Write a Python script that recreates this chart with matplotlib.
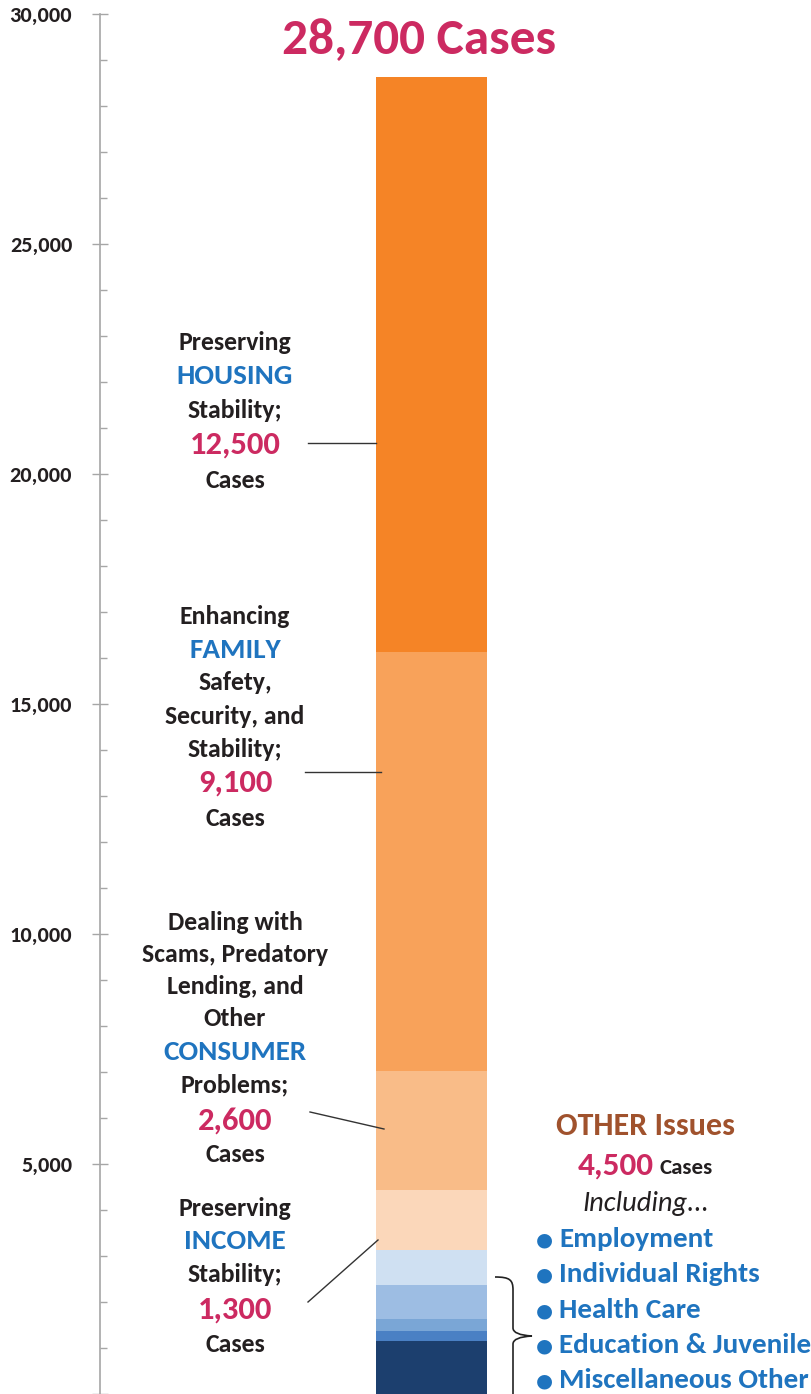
import matplotlib.pyplot as plt
from matplotlib.path import Path
from matplotlib.patches import PathPatch
from matplotlib.lines import Line2D

plt.rcParams['font.family'] = ['Carlito', 'DejaVu Sans']

# segments, bottom to top
segments = ['Misc', 'Education', 'Health', 'Rights', 'Employment',
            'Income', 'Consumer', 'Family', 'Housing']
values = [1150, 220, 260, 740, 760, 1300, 2600, 9100, 12500]
colors = ['#1C3F6E', '#4A80C4', '#7AA6D6', '#9DBDE3', '#CFE0F2',
          '#FBD7BA', '#F9BC88', '#F8A25A', '#F58426']
total_label = '28,700 Cases'
other_items = ['Employment', 'Individual Rights', 'Health Care',
               'Education & Juvenile', 'Miscellaneous Other']

W, H = 812, 1394
PINK = '#CC2A61'
BLUE = '#1F74BF'
DARK = '#231F20'

fig = plt.figure(figsize=(W / 100, H / 100), dpi=100)
ax = fig.add_axes([100 / W, 0, (W - 100) / W, 1380 / H])

bottom = 0
for v, c in zip(values, colors):
    ax.bar(331.5, v, width=111, bottom=bottom, color=c, edgecolor='none')
    bottom += v

ax.set_xlim(0, W - 100)
ax.set_ylim(0, 30000)
ax.set_yticks(range(0, 30001, 5000))
ax.set_yticks(range(0, 30001, 1000), minor=True)
ax.set_yticklabels(['' if t == 0 else f'{t:,}' for t in range(0, 30001, 5000)],
                   fontsize=16, fontweight='bold', color=DARK)
ax.tick_params(axis='y', which='major', direction='inout', length=12,
               width=1, color='#A6A6A6', pad=14)
ax.tick_params(axis='y', which='minor', direction='in', length=5,
               width=1, color='#A6A6A6')
ax.set_xticks([])
for s in ['top', 'right', 'bottom']:
    ax.spines[s].set_visible(False)
ax.spines['left'].set_color('#A6A6A6')
ax.spines['left'].set_linewidth(1.2)
ax.spines['left'].set_zorder(0)


def px(x, y):
    return x / W, 1 - y / H


def t(x, y, s, size, color=DARK, ha='center', **kw):
    fig.text(*px(x, y), s, fontsize=size, color=color, ha=ha, va='center',
             fontweight=kw.pop('fontweight', 'bold'), **kw)


# title
t(419, 40, total_label, 37, PINK)

# left labels: (text, y, kind)
blocks = [
    [('Preserving', 342, 'k'), ('HOUSING', 376, 'b'), ('Stability;', 410, 'k'),
     ('12,500', 445, 'n'), ('Cases', 481, 'k')],
    [('Enhancing', 616, 'k'), ('FAMILY', 650, 'b'), ('Safety,', 683, 'k'),
     ('Security, and', 716, 'k'), ('Stability;', 749, 'k'),
     ('9,100', 783, 'n'), ('Cases', 818, 'k')],
    [('Dealing with', 923, 'k'), ('Scams, Predatory', 955, 'k'),
     ('Lending, and', 986, 'k'), ('Other', 1018, 'k'), ('CONSUMER', 1052, 'b'),
     ('Problems;', 1085, 'k'), ('2,600', 1121, 'n'), ('Cases', 1154, 'k')],
    [('Preserving', 1208, 'k'), ('INCOME', 1241, 'b'), ('Stability;', 1275, 'k'),
     ('1,300', 1310, 'n'), ('Cases', 1345, 'k')],
]
style = {'k': (18.5, DARK), 'b': (21, BLUE), 'n': (23.5, PINK)}
for block in blocks:
    for s, y, k in block:
        size, col = style[k]
        t(235, y, s, size, col)

# leader lines
leaders = [((308, 443), (376, 443)), ((305, 772), (381, 772)),
           ((310, 1112), (384, 1129)), ((308, 1302), (378, 1240))]
for (x0, y0), (x1, y1) in leaders:
    fig.add_artist(Line2D([x0 / W, x1 / W], [1 - y0 / H, 1 - y1 / H],
                          color='#333333', lw=1.0, transform=fig.transFigure))

# right side: other issues
t(646, 1126, 'OTHER Issues', 23, '#A0522D')
t(654, 1166, '4,500', 24, PINK, ha='right')
t(660, 1168, 'Cases', 16.5, DARK, ha='left')
t(646, 1203, 'Including...', 20.5, DARK, style='italic', fontweight='normal')
for i, item in enumerate(other_items):
    y = 1239 + i * 35.3
    t(536, y + 1, '\u25cf', 14, BLUE, ha='left', family=['DejaVu Sans'])
    t(559, y, item, 21, BLUE, ha='left')

# bracket
verts = [(495, 1277), (510, 1277), (513, 1280), (513, 1290),
         (513, 1328), (513, 1335), (532, 1336),
         (513, 1337), (513, 1344), (513, 1352),
         (513, 1400)]
codes = [Path.MOVETO, Path.CURVE4, Path.CURVE4, Path.CURVE4,
         Path.LINETO, Path.CURVE3, Path.CURVE3,
         Path.CURVE3, Path.CURVE3, Path.LINETO,
         Path.LINETO]
verts_fig = [px(x, y) for x, y in verts]
fig.add_artist(PathPatch(Path(verts_fig, codes), fill=False, edgecolor='#222222',
                         lw=1.2, transform=fig.transFigure))

fig.savefig('out.png', dpi=100)
